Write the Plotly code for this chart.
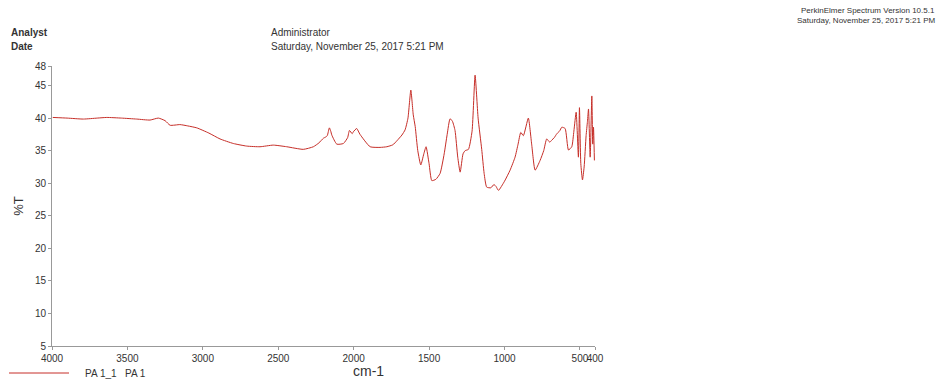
import plotly.graph_objects as go

# Wavenumber (cm-1) and transmittance (%T)
wavenumber = [3995, 3900, 3792, 3700, 3637, 3540, 3438, 3350, 3295, 3250, 3217, 3151, 3100, 3040,
              2960, 2886, 2798, 2709, 2621, 2533, 2444, 2334, 2267, 2230, 2201, 2185, 2175, 2161,
              2152, 2145, 2112, 2068, 2040, 2028, 2010, 2002, 1980, 1958, 1891, 1825, 1780,
              1740, 1714, 1680, 1659, 1640, 1621, 1605, 1592, 1575, 1555, 1535, 1520, 1500,
              1482, 1455, 1427, 1400, 1380, 1361, 1345, 1328, 1310, 1294, 1275, 1261, 1239,
              1215, 1195, 1175, 1151, 1135, 1118, 1090, 1070, 1056, 1040, 1000, 963, 930, 910,
              892, 875, 842, 820, 797, 764, 740, 720, 700, 687, 670, 653, 635, 620, 598, 576,
              554, 540, 525, 510, 503, 494, 483, 472, 459, 450, 443, 432, 421, 415, 410, 404]
transmittance = [40.1, 40.0, 39.85, 40.0, 40.1, 40.0, 39.85, 39.7, 40.0, 39.6, 38.9, 39.0, 38.8, 38.5,
                 37.7, 36.8, 36.1, 35.7, 35.6, 35.85, 35.6, 35.2, 35.6, 36.2, 36.9, 37.1, 37.3, 38.5,
                 38.0, 37.4, 36.0, 36.1, 37.0, 38.1, 37.6, 37.9, 38.4, 37.5, 35.6, 35.5, 35.6,
                 35.9, 36.5, 37.4, 38.2, 40.0, 44.3, 40.5, 38.7, 35.0, 32.8, 34.5, 35.6, 33.0,
                 30.4, 30.6, 31.5, 34.5, 37.5, 39.9, 39.5, 38.1, 34.0, 31.7, 34.5, 35.0, 35.2,
                 38.0, 46.6, 40.0, 35.2, 31.5, 29.4, 29.3, 29.8, 29.5, 28.9, 30.3, 32.0, 34.0, 36.0,
                 37.8, 37.3, 40.0, 36.0, 32.0, 33.5, 35.0, 36.8, 36.3, 36.6, 37.0, 37.6, 38.0, 38.6, 38.4, 35.1,
                 35.6, 38.0, 40.9, 34.0, 41.6, 33.0, 30.5, 32.5, 37.3, 39.5, 41.4, 34.0, 43.4, 36.0, 38.6, 33.5]

x_ticks = [4000, 3500, 3000, 2500, 2000, 1500, 1000, 500, 400]
y_ticks = [5, 10, 15, 20, 25, 30, 35, 40, 45, 48]

L, R, T, B = 52, 595, 66, 346
W, H = 940, 380


def px(x):
    return (x - L) / (R - L)


def py(y):
    return (B - y) / (B - T)


FONT = "Liberation Sans, Arial, sans-serif"
fig = go.Figure()
fig.add_trace(go.Scatter(x=wavenumber, y=transmittance, mode="lines",
                         line=dict(color="#c62e28", width=1, shape="spline", smoothing=0.5),
                         name="\u00a0\u00a0\u00a0\u00a0PA 1_1\u00a0\u00a0\u00a0PA 1"))

axis_common = dict(showgrid=False, zeroline=False, showline=True, linecolor="#999999",
                   linewidth=1, ticks="outside", ticklen=3, tickcolor="#999999",
                   automargin=False, tickangle=0,
                   tickfont=dict(family=FONT, size=10, color="#333333"))
fig.update_xaxes(range=[4000, 400], tickvals=x_ticks, ticktext=[str(v) for v in x_ticks],
                 **axis_common)
fig.update_yaxes(range=[5, 48], tickvals=y_ticks, ticktext=[str(v) for v in y_ticks],
                 title=dict(text="%T", font=dict(family=FONT, size=13, color="#333333"), standoff=8),
                 **axis_common)

ann = [
    dict(text="<b>Analyst</b>", x=px(10), y=py(33), xanchor="left", size=10),
    dict(text="<b>Date</b>", x=px(10), y=py(46), xanchor="left", size=10),
    dict(text="Administrator", x=px(270), y=py(33), xanchor="left", size=10),
    dict(text="Saturday, November 25, 2017 5:21 PM", x=px(270), y=py(46), xanchor="left", size=10),
    dict(text="PerkinElmer Spectrum Version 10.5.1", x=px(936), y=py(10), xanchor="right", size=8),
    dict(text="Saturday, November 25, 2017 5:21 PM", x=px(936), y=py(21), xanchor="right", size=8),
    dict(text="cm-1", x=px(368), y=py(371), xanchor="center", size=14),
]
for a in ann:
    fig.add_annotation(text=a["text"], x=a["x"], y=a["y"], xref="paper", yref="paper",
                       xanchor=a["xanchor"], yanchor="middle", showarrow=False, borderpad=0,
                       font=dict(family=FONT, size=a["size"], color="#333333"))

fig.update_layout(
    width=W, height=H,
    margin=dict(l=L, r=W - R, t=T, b=H - B, autoexpand=False),
    paper_bgcolor="white", plot_bgcolor="white",
    showlegend=True,
    legend=dict(orientation="h", x=px(4), y=py(373), xanchor="left", yanchor="middle",
                font=dict(family=FONT, size=10, color="#333333"), bgcolor="rgba(0,0,0,0)",
                itemwidth=60),
)

fig.write_html("out.html", config={"displayModeBar": False},
               post_script="document.body.style.margin='0';document.body.style.overflow='hidden';")
